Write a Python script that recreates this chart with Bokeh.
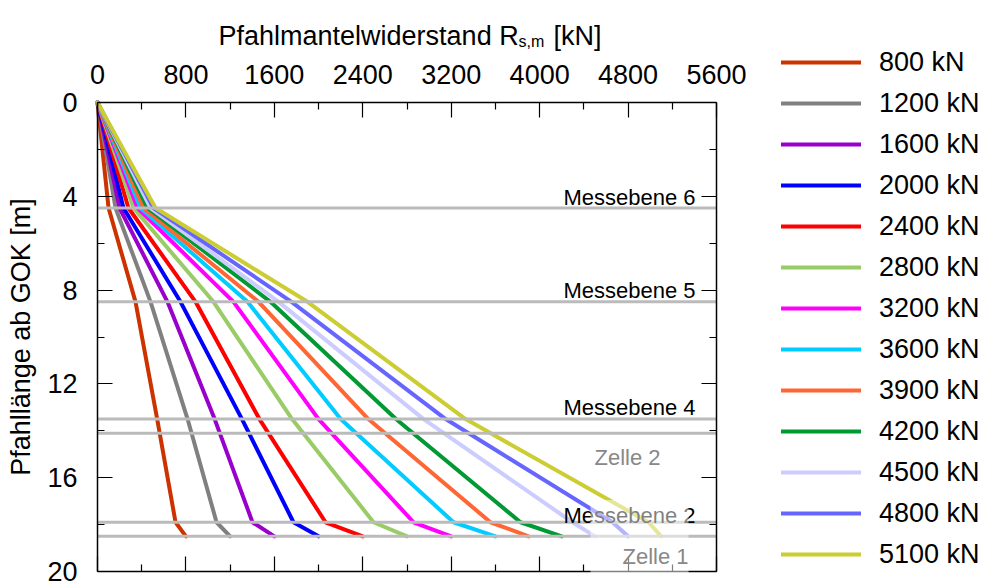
from bokeh.plotting import figure
from bokeh.models import (Range1d, LinearAxis, FixedTicker, Legend, LegendItem,
                          Label, BoxAnnotation)
from bokeh.embed import file_html
from bokeh.resources import INLINE

FONT = "Liberation Sans"

# ---- data -------------------------------------------------------------
depths = [0, 4.5, 8.5, 13.5, 17.9, 18.5]          # Pfahllänge ab GOK [m]
series_labels = ["800 kN", "1200 kN", "1600 kN", "2000 kN", "2400 kN", "2800 kN",
                 "3200 kN", "3600 kN", "3900 kN", "4200 kN", "4500 kN", "4800 kN",
                 "5100 kN"]
series_colors = ["#CC3300", "#808080", "#9900CC", "#0000FF", "#FF0000", "#99CC66",
                 "#FF00FF", "#00CCFF", "#FF6633", "#009933", "#CCCCFF", "#6666FF",
                 "#CCCC33"]
rs_800 = [0, 100, 344, 540, 706, 800]
rs_1200 = [0, 163, 480, 815, 1077, 1200]
rs_1600 = [0, 199, 633, 1060, 1402, 1600]
rs_2000 = [0, 235, 751, 1307, 1773, 2000]
rs_2400 = [0, 280, 887, 1465, 2063, 2400]
rs_2800 = [0, 326, 1049, 1760, 2497, 2800]
rs_3200 = [0, 362, 1230, 2000, 2859, 3200]
rs_3600 = [0, 389, 1357, 2200, 3221, 3600]
rs_3900 = [0, 416, 1457, 2450, 3555, 3900]
rs_4200 = [0, 452, 1565, 2700, 3827, 4200]
rs_4500 = [0, 480, 1638, 2950, 4297, 4500]
rs_4800 = [0, 507, 1755, 3150, 4659, 4800]
rs_5100 = [0, 525, 1900, 3330, 4985, 5100]
series_values = [rs_800, rs_1200, rs_1600, rs_2000, rs_2400, rs_2800, rs_3200,
                 rs_3600, rs_3900, rs_4200, rs_4500, rs_4800, rs_5100]

x_ticks = [0, 800, 1600, 2400, 3200, 4000, 4800, 5600]
x_minor = [400, 1200, 2000, 2800, 3600, 4400, 5200]
y_ticks = [0, 4, 8, 12, 16, 20]
y_minor = [2, 6, 10, 14, 18]

level_depths = [4.5, 8.5, 13.5, 14.1, 17.9, 18.5]
level_texts = ["Messebene 6", "Messebene 5", "Messebene 4", "Messebene 2"]
level_text_depths = [4.06, 8.02, 13.02, 17.61]
cell_texts = ["Zelle 2", "Zelle 1"]
cell_text_depths = [15.14, 19.36]
cell_text_x = [4795, 5048]

# ---- geometry: the plotting box sits at px 97..716 (x) and 102..571 (y) --
W, H = 986, 588
BOX_L, BOX_R, BOX_T, BOX_B = 97, 716, 102, 571
X0, X1 = x_ticks[0], x_ticks[-1]
Y0, Y1 = y_ticks[0], y_ticks[-1]
kx = (X1 - X0) / (BOX_R - BOX_L)
ky = (Y1 - Y0) / (BOX_B - BOX_T)
x_range = Range1d(X0 - BOX_L * kx, X1 + (W - BOX_R) * kx)
y_range = Range1d(Y1 + (H - BOX_B) * ky, Y0 - BOX_T * ky)

p = figure(width=W, height=H, output_backend="svg", toolbar_location=None,
           x_range=x_range, y_range=y_range,
           x_axis_type=None, y_axis_type=None, min_border=0)
p.grid.visible = False
p.outline_line_color = None
p.background_fill_color = "white"
p.border_fill_color = "white"


def style_axis(ax, ticks, labels=True):
    ax.major_tick_in = 15
    ax.major_tick_out = 0
    ax.minor_tick_in = 7
    ax.minor_tick_out = 0
    ax.axis_line_color = "black"
    ax.axis_line_width = 1.5
    ax.major_tick_line_color = "black"
    ax.major_tick_line_width = 1.2
    ax.minor_tick_line_color = "black"
    ax.minor_tick_line_width = 1.2
    ax.major_label_text_font = FONT
    ax.major_label_text_color = "black"
    if labels:
        ax.major_label_text_font_size = "27px"
    else:
        ax.major_label_overrides = {t: "" for t in ticks}
        ax.major_label_text_font_size = "2px"
        ax.major_label_standoff = 0


top = LinearAxis(ticker=FixedTicker(ticks=x_ticks, minor_ticks=x_minor),
                 fixed_location=Y0, bounds=(X0, X1))
style_axis(top, x_ticks)
top.major_label_standoff = 19
p.add_layout(top, "above")

bottom = LinearAxis(ticker=FixedTicker(ticks=x_ticks, minor_ticks=x_minor),
                    fixed_location=Y1, bounds=(X0, X1))
style_axis(bottom, x_ticks, labels=False)
p.add_layout(bottom, "below")

left = LinearAxis(ticker=FixedTicker(ticks=y_ticks, minor_ticks=y_minor),
                  axis_label="Pfahllänge ab GOK [m]",
                  fixed_location=X0, bounds=(Y0, Y1))
style_axis(left, y_ticks)
left.major_label_standoff = 20
left.axis_label_text_font = FONT
left.axis_label_text_font_size = "27px"
left.axis_label_text_font_style = "normal"
left.axis_label_text_color = "black"
left.axis_label_standoff = 8
p.add_layout(left, "left")

right = LinearAxis(ticker=FixedTicker(ticks=y_ticks, minor_ticks=y_minor),
                   fixed_location=X1, bounds=(Y0, Y1))
style_axis(right, y_ticks, labels=False)
p.add_layout(right, "right")

# ---- curves -----------------------------------------------------------
items = []
for lab, col, vals in zip(series_labels, series_colors, series_values):
    r = p.line(x=vals, y=depths, line_color=col, line_width=4,
               line_join="round", line_cap="round")
    items.append(LegendItem(label=lab, renderers=[r]))

# ---- measuring levels (drawn over the curves) ---------------------------
p.segment(x0=[X0] * len(level_depths), x1=[X1] * len(level_depths),
          y0=level_depths, y1=level_depths, line_color="#BBBBBB", line_width=3)

for t, d in zip(level_texts, level_text_depths):
    p.add_layout(Label(x=5410, y=d, text=t, text_align="right",
                       text_baseline="alphabetic", text_font=FONT,
                       text_font_size="22px", text_color="black"))

p.add_layout(BoxAnnotation(left=4460, right=5347, top=16.95, bottom=Y1 + 0.1,
                           fill_color="white", fill_alpha=0.5, line_color=None))

for t, d, xx in zip(cell_texts, cell_text_depths, cell_text_x):
    p.add_layout(Label(x=xx, y=d, text=t, text_align="center",
                       text_baseline="alphabetic", text_font=FONT,
                       text_font_size="22px", text_color="#888888"))

# ---- top axis title with subscript (screen units, from bottom-left) ------
title_parts = [("Pfahlmantelwiderstand R", 218, H - 35, "27px"),
               ("s,m", 518, H - 41, "16px"),
               ("[kN]", 553, H - 35, "27px")]
for txt, xx, yy, fs in title_parts:
    p.add_layout(Label(x=xx, y=yy, x_units="screen", y_units="screen",
                       text=txt, text_align="left", text_baseline="alphabetic",
                       text_font=FONT, text_font_size=fs, text_color="black"))

# ---- legend -----------------------------------------------------------
legend = Legend(items=items, location=(781, 18), orientation="vertical",
                label_text_font=FONT, label_text_font_size="27px",
                label_text_color="black", glyph_width=80, glyph_height=32,
                label_height=32, spacing=9, padding=0, label_standoff=18,
                margin=0, border_line_color=None, background_fill_alpha=0)
p.add_layout(legend, "center")

open("out.html", "w").write(file_html(p, INLINE))
